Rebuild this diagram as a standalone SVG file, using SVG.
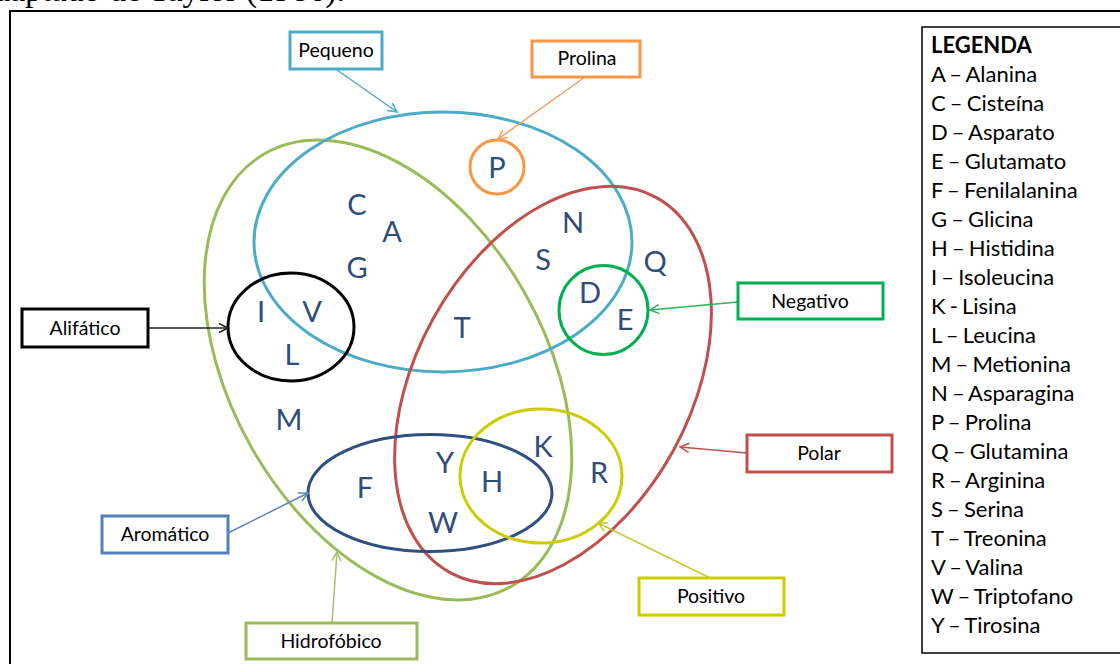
<svg xmlns="http://www.w3.org/2000/svg" width="1120" height="664" viewBox="0 0 1120 664">
<style>
.lbl{font-family:Lato,"Open Sans",sans-serif;font-size:19.5px;fill:#000;text-anchor:middle}
.leg{font-family:Lato,"Open Sans",sans-serif;font-size:22px;fill:#000;word-spacing:-1.5px}
.aa{font-family:Lato,"Open Sans",sans-serif;font-size:29px;fill:#2e4d7b;text-anchor:middle}
.set{fill:none;stroke-width:3}
.box{fill:#fff;stroke-width:3}
.arr{fill:none;stroke-width:1.5}
</style>
<defs>
<marker id="mTeal" markerUnits="userSpaceOnUse" markerWidth="12" markerHeight="12" refX="10" refY="5" orient="auto" viewBox="0 0 12 10"><path d="M1,0.5 L10,5 L1,9.5" fill="none" stroke="#4bacc6" stroke-width="1.5"/></marker>
<marker id="mOrange" markerUnits="userSpaceOnUse" markerWidth="12" markerHeight="12" refX="10" refY="5" orient="auto" viewBox="0 0 12 10"><path d="M1,0.5 L10,5 L1,9.5" fill="none" stroke="#f0a060" stroke-width="1.5"/></marker>
<marker id="mBlack" markerUnits="userSpaceOnUse" markerWidth="12" markerHeight="12" refX="10" refY="5" orient="auto" viewBox="0 0 12 10"><path d="M1,0.5 L10,5 L1,9.5" fill="none" stroke="#222" stroke-width="1.5"/></marker>
<marker id="mGreen" markerUnits="userSpaceOnUse" markerWidth="12" markerHeight="12" refX="10" refY="5" orient="auto" viewBox="0 0 12 10"><path d="M1,0.5 L10,5 L1,9.5" fill="none" stroke="#2cb35a" stroke-width="1.5"/></marker>
<marker id="mRed" markerUnits="userSpaceOnUse" markerWidth="12" markerHeight="12" refX="10" refY="5" orient="auto" viewBox="0 0 12 10"><path d="M1,0.5 L10,5 L1,9.5" fill="none" stroke="#c0504d" stroke-width="1.5"/></marker>
<marker id="mYellow" markerUnits="userSpaceOnUse" markerWidth="12" markerHeight="12" refX="10" refY="5" orient="auto" viewBox="0 0 12 10"><path d="M1,0.5 L10,5 L1,9.5" fill="none" stroke="#c8c830" stroke-width="1.5"/></marker>
<marker id="mBlue" markerUnits="userSpaceOnUse" markerWidth="12" markerHeight="12" refX="10" refY="5" orient="auto" viewBox="0 0 12 10"><path d="M1,0.5 L10,5 L1,9.5" fill="none" stroke="#5b84b8" stroke-width="1.5"/></marker>
<marker id="mHydro" markerUnits="userSpaceOnUse" markerWidth="12" markerHeight="12" refX="10" refY="5" orient="auto" viewBox="0 0 12 10"><path d="M1,0.5 L10,5 L1,9.5" fill="none" stroke="#a5c06e" stroke-width="1.5"/></marker>
</defs>
<rect width="1120" height="664" fill="#fff"/>
<text x="345" y="1" font-family="Liberation Serif,serif" font-size="34" text-anchor="end" fill="#000">Adaptado de Taylor (1986).</text>
<rect x="10" y="11" width="1130" height="700" fill="none" stroke="#000" stroke-width="2"/>

<g id="sets">
<ellipse id="set-hidrofobico" class="set" cx="388" cy="370" rx="249" ry="157" transform="rotate(60.4 388 370)" stroke="#9bbb59"/>
<ellipse id="set-pequeno" class="set" cx="443" cy="242" rx="189" ry="130" stroke="#4bacc6"/>
<ellipse id="set-polar" class="set" cx="553" cy="385" rx="214" ry="137" transform="rotate(-61.1 553 385)" stroke="#c0504d"/>
<ellipse id="set-alifatico" class="set" cx="291" cy="327" rx="63" ry="54" stroke="#000"/>
<circle id="set-prolina" class="set" cx="497" cy="167" r="27" stroke="#f79646"/>
<circle id="set-negativo" class="set" cx="603.5" cy="310" r="44.5" stroke="#00b050"/>
<ellipse id="set-aromatico" class="set" cx="430" cy="493" rx="122" ry="58.5" stroke="#2f5080"/>
<ellipse id="set-positivo" class="set" cx="541" cy="476" rx="81" ry="67" stroke="#cccc00"/>
</g>

<g id="letters">
<text class="aa" x="497" y="178">P</text>
<text class="aa" x="357" y="215">C</text>
<text class="aa" x="392" y="242">A</text>
<text class="aa" x="357" y="278">G</text>
<text class="aa" x="261" y="322">I</text>
<text class="aa" x="312" y="322">V</text>
<text class="aa" x="292" y="365">L</text>
<text class="aa" x="289" y="430">M</text>
<text class="aa" x="573" y="233">N</text>
<text class="aa" x="543" y="270">S</text>
<text class="aa" x="655" y="272">Q</text>
<text class="aa" x="590" y="303">D</text>
<text class="aa" x="625" y="330">E</text>
<text class="aa" x="462" y="338">T</text>
<text class="aa" x="365" y="498">F</text>
<text class="aa" x="445" y="473">Y</text>
<text class="aa" x="492" y="492">H</text>
<text class="aa" x="443" y="533">W</text>
<text class="aa" x="543" y="457">K</text>
<text class="aa" x="599" y="483">R</text>
</g>

<g id="connectors">
<line class="arr" x1="337" y1="70" x2="397" y2="112" stroke="#4bacc6" marker-end="url(#mTeal)"/>
<line class="arr" x1="585" y1="77" x2="498" y2="139" stroke="#f0a060" marker-end="url(#mOrange)"/>
<line class="arr" x1="148" y1="328" x2="228" y2="328" stroke="#222" marker-end="url(#mBlack)"/>
<line class="arr" x1="738" y1="302" x2="650" y2="310" stroke="#2cb35a" marker-end="url(#mGreen)"/>
<line class="arr" x1="747" y1="453" x2="680" y2="447" stroke="#c0504d" marker-end="url(#mRed)"/>
<line class="arr" x1="710" y1="578" x2="598" y2="523" stroke="#c8c830" marker-end="url(#mYellow)"/>
<line class="arr" x1="228" y1="533" x2="308" y2="493" stroke="#5b84b8" marker-end="url(#mBlue)"/>
<line class="arr" x1="332" y1="623" x2="337" y2="552" stroke="#a5c06e" marker-end="url(#mHydro)"/>
</g>

<g id="pequeno"><rect class="box" x="290" y="32" width="92" height="37" stroke="#4bacc6"/><text class="lbl" x="336" y="57">Pequeno</text></g>
<g id="prolina"><rect class="box" x="532" y="41" width="108" height="36" stroke="#f79646"/><text class="lbl" x="587" y="65">Prolina</text></g>
<g id="alifatico"><rect class="box" x="22" y="309" width="126" height="38" stroke="#000"/><text class="lbl" x="85" y="335">Alifático</text></g>
<g id="negativo"><rect class="box" x="738" y="283" width="145" height="36" stroke="#00b050"/><text class="lbl" x="810" y="308">Negativo</text></g>
<g id="polar"><rect class="box" x="747" y="435" width="145" height="37" stroke="#c0504d"/><text class="lbl" x="819" y="460">Polar</text></g>
<g id="positivo"><rect class="box" x="639" y="578" width="145" height="37" stroke="#cccc00"/><text class="lbl" x="711" y="603">Positivo</text></g>
<g id="aromatico"><rect class="box" x="102" y="516" width="126" height="37" stroke="#4f81bd"/><text class="lbl" x="165" y="541">Aromático</text></g>
<g id="hidrofobico"><rect class="box" x="246" y="623" width="171" height="36" stroke="#9bbb59"/><text class="lbl" x="331" y="648">Hidrofóbico</text></g>

<g id="legenda">
<rect x="922" y="27" width="210" height="626" fill="#fff" stroke="#000" stroke-width="1.5"/>
<text class="leg" x="931" y="53" font-weight="bold">LEGENDA</text>
<text class="leg" x="931" y="82">A – Alanina</text>
<text class="leg" x="931" y="111">C – Cisteína</text>
<text class="leg" x="931" y="140">D – Asparato</text>
<text class="leg" x="931" y="169">E – Glutamato</text>
<text class="leg" x="931" y="198">F – Fenilalanina</text>
<text class="leg" x="931" y="227">G – Glicina</text>
<text class="leg" x="931" y="256">H – Histidina</text>
<text class="leg" x="931" y="285">I – Isoleucina</text>
<text class="leg" x="931" y="314">K - Lisina</text>
<text class="leg" x="931" y="343">L – Leucina</text>
<text class="leg" x="931" y="372">M – Metionina</text>
<text class="leg" x="931" y="401">N – Asparagina</text>
<text class="leg" x="931" y="430">P – Prolina</text>
<text class="leg" x="931" y="459">Q – Glutamina</text>
<text class="leg" x="931" y="488">R – Arginina</text>
<text class="leg" x="931" y="517">S – Serina</text>
<text class="leg" x="931" y="546">T – Treonina</text>
<text class="leg" x="931" y="575">V – Valina</text>
<text class="leg" x="931" y="604">W – Triptofano</text>
<text class="leg" x="931" y="633">Y – Tirosina</text>
</g>
</svg>
